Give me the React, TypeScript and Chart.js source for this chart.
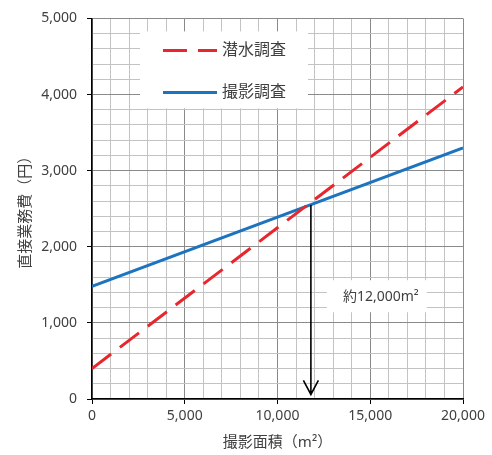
import React, { useEffect, useRef } from 'react';
import { Chart, registerables } from 'chart.js';

Chart.register(...registerables);

// ---- data ----
const AREA_X = [0, 20000];
const DIVE_COST = [400, 4100]; // 潜水調査
const PHOTO_COST = [1480, 3300]; // 撮影調査
const SERIES_LABELS = ['潜水調査', '撮影調査'];
const X_RANGE = [0, 20000];
const Y_RANGE = [0, 5000];
const X_MINOR_STEP = 1000;
const X_MAJOR_STEP = 5000;
const Y_MINOR_STEP = 200;
const Y_MAJOR_STEP = 1000;
const ANNOT_X = 11800;
const ANNOT_Y = [2550, 60];
const ANNOT_LABEL = '約12,000m²';
const X_TITLE = '撮影面積（m²）';
const Y_TITLE = '直接業務費（円）';

const FONT = "'Noto Sans', 'Noto Sans CJK JP', sans-serif";
const TEXT = '#404040';
const RED = '#e8262d';
const BLUE = '#1c74bf';
const MINOR = '#c3c3c3';
const MAJOR = '#8a8a8a';

const fmt = (v: number) => Math.round(v).toLocaleString('en-US');

const overlayPlugin = {
  id: 'overlay',
  afterDatasetsDraw(chart: any) {
    const { ctx, chartArea: ca, scales } = chart;
    const xs = scales.x;
    const ys = scales.y;
    ctx.save();

    // legend box
    const lx = ca.left + 48;
    const ly = ca.top + 13;
    ctx.fillStyle = '#ffffff';
    ctx.fillRect(lx, ly, 168, 77);
    const ds = chart.data.datasets;
    ds.forEach((d: any, i: number) => {
      const y = ly + 19 + i * 42;
      ctx.beginPath();
      ctx.strokeStyle = d.borderColor;
      ctx.lineWidth = 3;
      ctx.setLineDash(d.borderDash || []);
      ctx.moveTo(lx + 23, y);
      ctx.lineTo(lx + 77, y);
      ctx.stroke();
      ctx.setLineDash([]);
      ctx.fillStyle = TEXT;
      ctx.font = `16px ${FONT}`;
      ctx.textBaseline = 'middle';
      ctx.textAlign = 'left';
      ctx.fillText(d.label, lx + 82, y);
    });

    // arrow
    const ax = xs.getPixelForValue(ANNOT_X);
    const ay0 = ys.getPixelForValue(ANNOT_Y[0]);
    const ay1 = ys.getPixelForValue(ANNOT_Y[1]);
    ctx.strokeStyle = '#000';
    ctx.lineWidth = 1.6;
    ctx.beginPath();
    ctx.moveTo(ax, ay0);
    ctx.lineTo(ax, ay1);
    ctx.moveTo(ax - 7.5, ay1 - 14);
    ctx.lineTo(ax, ay1);
    ctx.lineTo(ax + 7.5, ay1 - 14);
    ctx.stroke();

    // annotation label
    const bx = ax + 16;
    const by = ys.getPixelForValue(1560);
    ctx.fillStyle = '#ffffff';
    ctx.fillRect(bx, by, 100, 32);
    ctx.fillStyle = TEXT;
    ctx.font = `14px ${FONT}`;
    ctx.textBaseline = 'middle';
    ctx.textAlign = 'left';
    ctx.fillText(ANNOT_LABEL, bx + 16, by + 17);
    ctx.restore();
  },
};

export default function App() {
  const ref = useRef<HTMLCanvasElement | null>(null);
  useEffect(() => {
    if (!ref.current) return;
    const chart = new Chart(ref.current, {
      type: 'line',
      data: {
        datasets: [
          {
            label: SERIES_LABELS[0],
            data: AREA_X.map((x, i) => ({ x, y: DIVE_COST[i] })),
            borderColor: RED,
            backgroundColor: RED,
            borderWidth: 3,
            borderDash: [24, 11],
            pointRadius: 0,
            tension: 0,
          },
          {
            label: SERIES_LABELS[1],
            data: AREA_X.map((x, i) => ({ x, y: PHOTO_COST[i] })),
            borderColor: BLUE,
            backgroundColor: BLUE,
            borderWidth: 3,
            pointRadius: 0,
            tension: 0,
          },
        ],
      },
      options: {
        animation: false,
        responsive: false,
        devicePixelRatio: 1,
        layout: { padding: { top: 17, right: 29, bottom: 0, left: 0 } },
        plugins: { legend: { display: false }, tooltip: { enabled: false } },
        scales: {
          x: {
            type: 'linear',
            min: X_RANGE[0],
            max: X_RANGE[1],
            afterFit: (s: any) => {
              s.height = 56;
            },
            ticks: {
              stepSize: X_MINOR_STEP,
              autoSkip: false,
              maxRotation: 0,
              padding: 4,
              color: TEXT,
              font: { family: FONT, size: 14 },
              callback: (v: any) => (Math.round(v) % X_MAJOR_STEP === 0 ? fmt(v) : ''),
            },
            grid: {
              color: (c: any) => (Math.round(c.tick.value) % X_MAJOR_STEP === 0 ? MAJOR : MINOR),
              tickColor: (c: any) => (Math.round(c.tick.value) % X_MAJOR_STEP === 0 ? '#000' : 'rgba(0,0,0,0)'),
              tickLength: 5,
              lineWidth: 1,
            },
            border: { color: '#000', width: 1.5 },
            title: {
              display: true,
              text: X_TITLE,
              color: TEXT,
              font: { family: FONT, size: 15 },
              padding: { top: 2, bottom: 3 },
            },
          },
          y: {
            type: 'linear',
            min: Y_RANGE[0],
            max: Y_RANGE[1],
            afterFit: (s: any) => {
              s.width = 92;
            },
            ticks: {
              stepSize: Y_MINOR_STEP,
              autoSkip: false,
              padding: 10,
              color: TEXT,
              font: { family: FONT, size: 14 },
              callback: (v: any) => (Math.round(v) % Y_MAJOR_STEP === 0 ? fmt(v) : ''),
            },
            grid: {
              color: (c: any) => (Math.round(c.tick.value) % Y_MAJOR_STEP === 0 ? MAJOR : MINOR),
              tickColor: (c: any) => (Math.round(c.tick.value) % Y_MAJOR_STEP === 0 ? '#000' : 'rgba(0,0,0,0)'),
              tickLength: 5,
              lineWidth: 1,
            },
            border: { color: '#000', width: 1.5 },
            title: {
              display: true,
              text: Y_TITLE,
              color: TEXT,
              font: { family: FONT, size: 15 },
              padding: { top: 17, bottom: 0 },
            },
          },
        },
      },
      plugins: [overlayPlugin],
    } as any);
    return () => chart.destroy();
  }, []);
  return (
    <div style={{ position: 'fixed', left: 0, top: 0, width: 492, height: 455, background: '#fff' }}>
      <canvas ref={ref} width={492} height={455} />
    </div>
  );
}
